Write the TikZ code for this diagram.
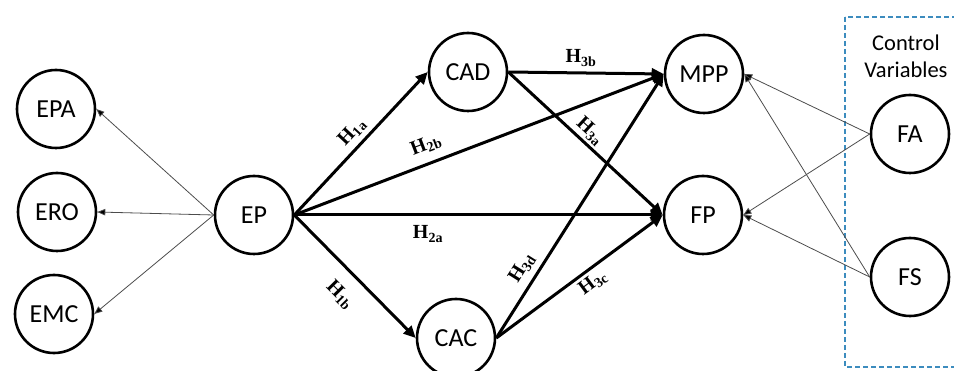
\documentclass[tikz,border=0pt]{standalone}
\usepackage{fontspec}
\setmainfont{Carlito}
\newfontfamily\labfont{Liberation Serif}
\usetikzlibrary{arrows.meta}
\definecolor{ctrlblue}{RGB}{60,140,190}
\begin{document}
\begin{tikzpicture}[x=1pt,y=-1pt,
  var/.style={circle,draw,line width=2.6pt,minimum size=78pt,inner sep=0pt,font=\fontsize{26}{28}\selectfont},
  mainarr/.style={line width=3pt,-{Triangle[length=12pt,width=11pt]}},
  thinarr/.style={line width=0.8pt,draw=black!70,-{Triangle[length=8pt,width=6.5pt,fill=black]}},
  hyp/.style={font=\fontsize{20}{21}\selectfont\labfont\bfseries,inner sep=1pt},
  ctrl/.style={draw=ctrlblue,line width=1.2pt,dash pattern=on 5pt off 3pt}]
\useasboundingbox (0,0) rectangle (954,371);
% control box
\draw[ctrl] (845,17) rectangle (975,367);
\node[font=\fontsize{22.5}{27}\selectfont,align=center] (ctrltxt) at (906,56) {Control\\Variables};
% nodes
\node[var] (EPA) at (56,109) {EPA};
\node[var] (ERO) at (57,212) {ERO};
\node[var] (EMC) at (54,314) {EMC};
\node[var] (EP) at (254,215) {EP};
\node[var] (CAD) at (468,72) {CAD};
\node[var] (CAC) at (456,338) {CAC};
\node[var] (MPP) at (704,74) {MPP};
\node[var] (FP) at (703,215) {FP};
\node[var] (FA) at (910,134) {FA};
\node[var] (FS) at (910,277) {FS};
% thin arrows
\draw[thinarr] (EP.west) -- (EPA.east);
\draw[thinarr] (EP.west) -- (ERO.east);
\draw[thinarr] (EP.west) -- (EMC.east);
\draw[thinarr] (FA.west) -- (MPP.east);
\draw[thinarr] (FA.west) -- (FP.east);
\draw[thinarr] (FS.west) -- (MPP.east);
\draw[thinarr] (FS.west) -- (FP.east);
% main arrows
\draw[mainarr] (EP.east) -- (CAD.west);
\draw[mainarr] (EP.east) -- (CAC.west);
\draw[mainarr] (EP.east) -- (FP.west);
\draw[mainarr] (EP.east) -- (MPP.west);
\draw[mainarr] (CAD.east) -- (MPP.west);
\draw[mainarr] (CAD.east) -- (FP.west);
\draw[mainarr] (CAC.east) -- (MPP.west);
\draw[mainarr] (CAC.east) -- (FP.west);
% labels
\node[hyp,rotate=47] (h1a) at (352,132) {H\textsubscript{1a}};
\node[hyp,rotate=21] (h2b) at (426,145) {H\textsubscript{2b}};
\node[hyp] (h2a) at (428,234) {H\textsubscript{2a}};
\node[hyp,rotate=-45.5] (h1b) at (340,295) {H\textsubscript{1b}};
\node[hyp] (h3b) at (581,58) {H\textsubscript{3b}};
\node[hyp,rotate=-42.7] (h3a) at (590,131) {H\textsubscript{3a}};
\node[hyp,rotate=57.8] (h3d) at (522,268) {H\textsubscript{3d}};
\node[hyp,rotate=36.5] (h3c) at (593,283) {H\textsubscript{3c}};
\end{tikzpicture}
\end{document}
